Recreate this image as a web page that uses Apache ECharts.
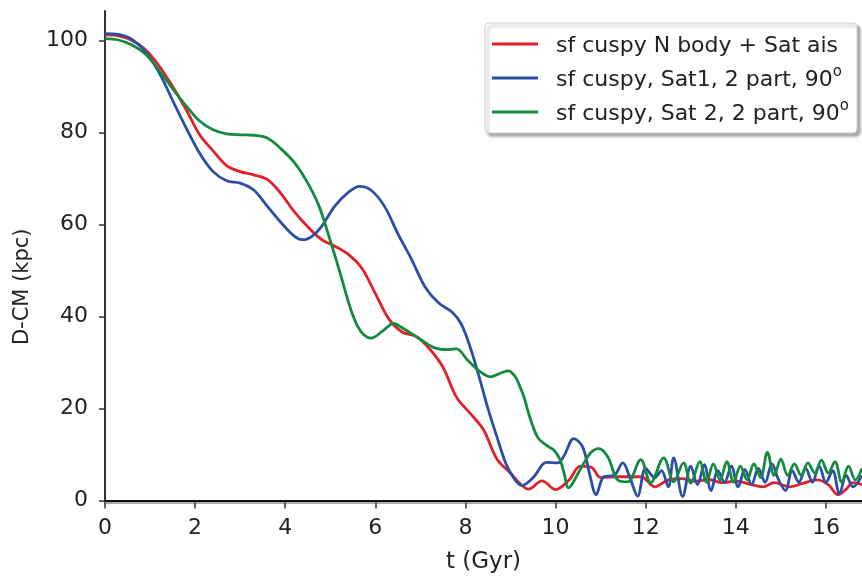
<!DOCTYPE html>
<html><head><meta charset="utf-8">
<script src="https://cdn.jsdelivr.net/npm/echarts@6/dist/echarts.min.js"></script>
<style>html,body{margin:0;padding:0;background:#fff}#c{width:862px;height:576px}</style>
</head><body><div id="c"></div>
<script>
var seriesNames = ['sf cuspy N body + Sat ais', 'sf cuspy, Sat1, 2 part, 90', 'sf cuspy, Sat 2, 2 part, 90'];
var xTicks = [0, 2, 4, 6, 8, 10, 12, 14, 16];
var yTicks = [0, 20, 40, 60, 80, 100];

var redT = [0,0.3,0.6,0.9,1.2,1.5,1.8,2.1,2.4,2.7,3.0,3.3,3.6,3.9,4.2,4.5,4.8,5.1,5.4,5.7,6.0,6.3,6.6,6.9,7.2,7.5,7.8,8.1,8.4,8.7,9.0,9.2,9.4,9.7,10.0,10.3,10.55,10.8,11.0,11.4,11.9,12.2,12.5,12.8,13.1,13.4,13.7,14.0,14.3,14.6,14.85,15.2,15.5,15.8,16.05,16.27,16.45,16.6,16.8];
var redV = [101.2,101,100,98,94.5,90,85,79.5,76,72.8,71.5,70.8,69.8,66.8,62.8,59.5,56.8,55.3,53.5,50.5,45,39.5,36.6,35.7,33,29,22.5,19,15.4,9,6,3.8,2.5,4.3,2.4,4.5,7.5,7.2,5,5.2,5.2,3,4.5,4.8,4.2,4.6,3.9,4.3,3.6,3.0,3.9,3.0,3.8,4.5,3.5,1.3,2.5,3.9,3.5];

var blueT = [0,0.3,0.6,0.9,1.2,1.5,1.8,2.1,2.4,2.7,3.0,3.3,3.6,3.9,4.2,4.4,4.6,4.8,5.1,5.4,5.65,5.9,6.2,6.5,6.8,7.1,7.4,7.7,7.9,8.1,8.3,8.5,8.7,8.9,9.1,9.25,9.5,9.8,10.05,10.2,10.4,10.6,10.75,10.9,11.07,11.3,11.49,11.65,11.82,12.0,12.2,12.35,12.5,12.62,12.82,13.0,13.15,13.3,13.45,13.6,13.75,13.9,14.05,14.2,14.35,14.5,14.65,14.8,14.95,15.1,15.25,15.4,15.55,15.7,15.85,16.0,16.15,16.3,16.45,16.6,16.8];
var blueV = [101.5,101.3,100.2,97.5,93,87,81,75.5,71.5,69.5,69,67.5,64,60.5,57.5,56.7,57.5,59.5,64,67,68.3,67.5,64,58,52.5,46.5,43,41,38.5,33.5,27,20,13.8,8,4.5,3.3,5,8.3,8.2,10,13.5,11.7,6,1.3,5.2,5.5,8.2,5,1.0,7,5,6.5,3,9.3,0.9,7.5,3.5,7.8,2.2,6.5,4,7.5,3,6.8,3.5,7,4,8,4.5,2.2,6.5,4,7,4,7.5,4,6.5,1.5,5.5,3,5.5];

var greenT = [0,0.3,0.6,0.9,1.2,1.5,1.8,2.1,2.4,2.7,3.0,3.3,3.6,3.9,4.2,4.5,4.75,5.0,5.22,5.44,5.6,5.75,5.9,6.18,6.4,6.62,6.93,7.29,7.6,7.8,8.05,8.33,8.56,8.8,8.95,9.1,9.2,9.3,9.4,9.6,9.8,9.96,10.1,10.2,10.28,10.56,10.78,10.96,11.16,11.38,11.6,11.89,12.11,12.4,12.62,12.84,13.0,13.2,13.35,13.5,13.65,13.8,13.95,14.1,14.25,14.4,14.55,14.7,14.85,15.0,15.15,15.3,15.45,15.6,15.75,15.9,16.05,16.2,16.35,16.5,16.65,16.8];
var greenV = [100.4,100.1,99,97,93.5,89.5,85.8,82.5,80.6,79.7,79.5,79.4,78.8,76.5,73.5,69,64,56.5,49.4,42,38,36,35.3,37,38.5,37.4,35.5,33.3,32.8,33,30.5,28,26.9,27.8,28.2,27,25,22.5,19,13.8,12,11,8.9,5.5,2.8,7,10.4,11.3,9.5,4.5,4.1,8.9,3.9,9.3,4.1,8.2,3.8,8.5,4,8,4.5,8.5,4,7.5,4.5,8,5,10.5,5.5,9,5.5,8,5.5,8.2,6,8.8,6,8.5,4,7.5,4.5,7];

function pairs(t, v) { return t.map(function (x, i) { return [x, v[i]]; }); }

var FONT = 'DejaVu Sans';
var chart = echarts.init(document.getElementById('c'), null, {renderer: 'canvas'});
var colors = ['#e0202a', '#2b4fa8', '#138a3e'];
var seriesData = [pairs(redT, redV), pairs(blueT, blueV), pairs(greenT, greenV)];

chart.setOption({
  animation: false,
  backgroundColor: '#fff',
  grid: {left: 105, right: 0, top: 11, bottom: 73.5, containLabel: false, outerBoundsMode: 'none'},
  legend: {
    orient: 'vertical',
    left: 485, top: 23,
    itemWidth: 46, itemHeight: 3, itemGap: 8,
    icon: 'rect',
    padding: [12, 8, 8, 7],
    borderColor: '#cfcfcf', borderWidth: 1, borderRadius: 4,
    backgroundColor: '#fff',
    shadowColor: 'rgba(0,0,0,0.35)', shadowBlur: 3, shadowOffsetX: 3, shadowOffsetY: 3,
    data: seriesNames,
    formatter: function (name) {
      if (name === seriesNames[0]) return '{a|' + name + '}';
      return '{a|' + name + '}{s|o}';
    },
    textStyle: {
      fontFamily: FONT, color: '#222', padding: [0, 0, 0, 13],
      rich: {
        a: {fontFamily: FONT, fontSize: 22, color: '#222', lineHeight: 26, verticalAlign: 'bottom'},
        s: {fontFamily: FONT, fontSize: 15, color: '#222', lineHeight: 12, verticalAlign: 'top'}
      }
    }
  },
  xAxis: [{
    type: 'value', min: 0, max: 16.8, interval: 2,
    name: 't (Gyr)', nameLocation: 'middle', nameGap: 48,
    nameTextStyle: {fontFamily: FONT, fontSize: 23, color: '#222'},
    axisLine: {show: true, onZero: false, lineStyle: {color: '#aaa', width: 2}},
    axisTick: {show: true, length: 6, lineStyle: {color: '#333', width: 1.5}, customValues: xTicks},
    axisLabel: {fontFamily: FONT, fontSize: 22, color: '#222', margin: 15, customValues: xTicks},
    splitLine: {show: false}
  }, {
    type: 'value', position: 'top', min: 0, max: 16.8,
    axisLine: {show: true, lineStyle: {color: '#111', width: 2}},
    axisTick: {show: false}, axisLabel: {show: false}, splitLine: {show: false}
  }],
  yAxis: {
    type: 'value', min: -0.4, max: 106.4,
    name: 'D-CM (kpc)', nameLocation: 'middle', nameGap: 72, nameRotate: 90,
    nameTextStyle: {fontFamily: FONT, fontSize: 21, color: '#222', padding: [0, 60, 0, 0]},
    axisLine: {show: true, onZero: false, lineStyle: {color: '#333', width: 2}},
    axisTick: {show: true, length: 6, lineStyle: {color: '#333', width: 1.5}, customValues: yTicks},
    axisLabel: {fontFamily: FONT, fontSize: 22, color: '#222', margin: 17, customValues: yTicks},
    splitLine: {show: false}
  },
  series: seriesData.map(function (d, i) {
    return {
      type: 'line', name: seriesNames[i], data: d,
      smooth: 0.35, showSymbol: false, symbol: 'none',
      lineStyle: {color: colors[i], width: 2.8},
      itemStyle: {color: colors[i]},
      z: 2 + i
    };
  })
});
</script></body></html>
